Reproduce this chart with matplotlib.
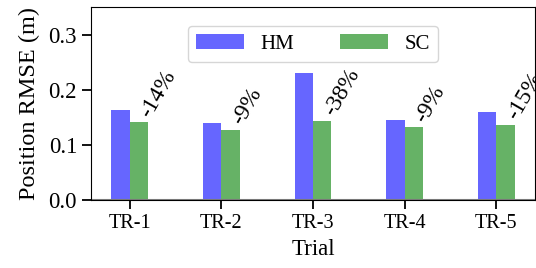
import matplotlib
matplotlib.use("Agg")
import matplotlib.pyplot as plt
import numpy as np

plt.rcParams['font.family'] = ['Liberation Serif', 'DejaVu Serif']
plt.rcParams['font.size'] = 15

trials = ["TR-1", "TR-2", "TR-3", "TR-4", "TR-5"]
hm = [0.164, 0.140, 0.231, 0.146, 0.160]
sc = [0.142, 0.128, 0.144, 0.133, 0.137]
pct = ["-14%", "-9%", "-38%", "-9%", "-15%"]

fig = plt.figure(figsize=(5.36, 2.68), dpi=100)
ax = fig.add_axes([0.1698, 0.252, 0.8282, 0.722])

x = np.arange(len(trials))
w = 0.2
ax.bar(x - w/2, hm, w, color='b', alpha=0.6, label='HM')
ax.bar(x + w/2, sc, w, color='g', alpha=0.6, label='SC')
for xi, v, t in zip(x, sc, pct):
    ax.text(xi + w/2 - 0.025, v + 0.002, t, rotation=60, ha='left', va='bottom',
            fontsize=17)

ax.axhline(0, color='gray', lw=1.5)
ax.set_xticks(x)
ax.set_xticklabels(trials)
ax.set_yticks([0.0, 0.1, 0.2, 0.3])
ax.set_ylim(0, 0.351)
ax.tick_params(length=6.5, width=1.3)
ax.tick_params(axis='x', labelsize=14.5)
ax.tick_params(axis='y', labelsize=16.5)
ax.set_xlabel("Trial", fontsize=16.5, labelpad=4)
ax.set_ylabel("Position RMSE (m)", fontsize=17.5, labelpad=6)
ax.legend(loc='upper center', ncol=2, handlelength=2.3, columnspacing=2.2,
          bbox_to_anchor=(0.5, 0.955), fontsize=15)

fig.savefig("out.png", dpi=100)
